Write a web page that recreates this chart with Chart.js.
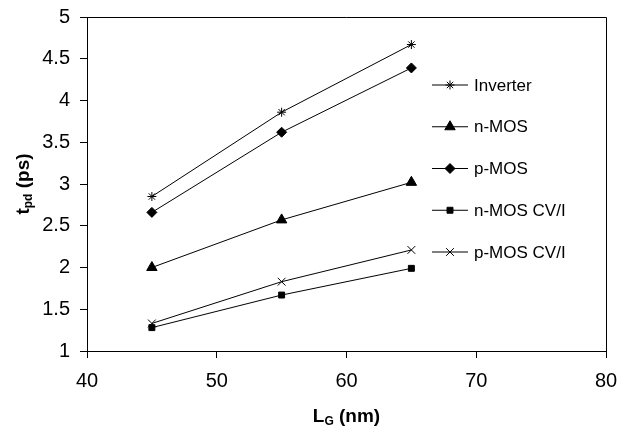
<!DOCTYPE html>
<html>
<head>
<script src="https://cdn.jsdelivr.net/npm/chart.js"></script>
<style>
  body { margin: 0; background: #fff; }
</style>
</head>
<body>
<canvas id="myChart" width="624" height="430"></canvas>
<script>
  // gate length (nm)
  var lengths = [45, 55, 65];
  // propagation delay tpd (ps)
  var inverter = [2.85, 3.86, 4.67];
  var nMos     = [2.00, 2.57, 3.02];
  var pMos     = [2.66, 3.62, 4.39];
  var nMosCvi  = [1.28, 1.67, 1.99];
  var pMosCvi  = [1.33, 1.83, 2.21];

  var seriesNames = ['Inverter', 'n-MOS', 'p-MOS', 'n-MOS CV/I', 'p-MOS CV/I'];
  var seriesValues = [inverter, nMos, pMos, nMosCvi, pMosCvi];
  var markers = ['star', 'triangle', 'rectRot', 'rect', 'crossRot'];
  var markerSizes = [4.5, 6, 5, 4.2, 5.5];

  var FONT = "'Liberation Sans', Arial, sans-serif";

  function makeData(values) {
    var pts = [];
    for (var i = 0; i < lengths.length; i++) {
      pts.push({ x: lengths[i], y: values[i] });
    }
    return pts;
  }

  var datasets = [];
  for (var i = 0; i < seriesNames.length; i++) {
    datasets.push({
      label: seriesNames[i],
      data: makeData(seriesValues[i]),
      borderColor: '#000',
      backgroundColor: '#000',
      borderWidth: 1,
      pointStyle: markers[i],
      pointRadius: markerSizes[i],
      pointBorderWidth: 1,
      pointBorderColor: '#000',
      pointBackgroundColor: '#000',
      fill: false,
      tension: 0
    });
  }

  // box around the plot + axis titles with subscripts + legend inside the plot
  var decorations = {
    id: 'decorations',
    afterDraw: function(chart) {
      var ctx = chart.ctx;
      var a = chart.chartArea;
      ctx.save();
      ctx.strokeStyle = '#000';
      ctx.lineWidth = 1;
      ctx.beginPath();
      ctx.moveTo(a.left, a.top + 0.5);
      ctx.lineTo(a.right + 0.5, a.top + 0.5);
      ctx.lineTo(a.right + 0.5, a.bottom);
      ctx.stroke();

      // x title: L_G (nm)
      drawSubTitle(ctx, 'L', 'G', ' (nm)', (a.left + a.right) / 2, 415, 0);
      // y title: t_pd (ps)
      drawSubTitle(ctx, 't', 'pd', ' (ps)', 22, (a.top + a.bottom) / 2, -Math.PI / 2);

      // legend
      ctx.font = '17px ' + FONT;
      ctx.textBaseline = 'middle';
      ctx.textAlign = 'left';
      for (var i = 0; i < seriesNames.length; i++) {
        var y = a.top + 68 + i * 41.75;
        var x0 = a.left + 345;
        ctx.beginPath();
        ctx.strokeStyle = '#000';
        ctx.lineWidth = 1;
        ctx.moveTo(x0, y);
        ctx.lineTo(x0 + 36, y);
        ctx.stroke();
        ctx.fillStyle = '#000';
        Chart.helpers.drawPoint(ctx, {
          pointStyle: markers[i],
          radius: markerSizes[i],
          rotation: 0,
          borderWidth: 1
        }, x0 + 18, y);
        ctx.fillStyle = '#000';
        ctx.fillText(seriesNames[i], x0 + 42, y + 1);
      }
      ctx.restore();
    }
  };

  function drawSubTitle(ctx, main, sub, rest, cx, cy, rot) {
    var big = 'bold 19px ' + FONT;
    var small = 'bold 12px ' + FONT;
    ctx.save();
    ctx.translate(cx, cy);
    ctx.rotate(rot);
    ctx.fillStyle = '#000';
    ctx.textBaseline = 'alphabetic';
    ctx.textAlign = 'left';
    ctx.font = big;
    var w1 = ctx.measureText(main).width;
    var w3 = ctx.measureText(rest).width;
    ctx.font = small;
    var w2 = ctx.measureText(sub).width;
    var x = -(w1 + w2 + w3) / 2;
    var base = 7;
    ctx.font = big;
    ctx.fillText(main, x, base);
    ctx.font = small;
    ctx.fillText(sub, x + w1, base + 3);
    ctx.font = big;
    ctx.fillText(rest, x + w1 + w2, base);
    ctx.restore();
  }

  Chart.defaults.font.family = FONT;
  Chart.defaults.color = '#000';

  var ctx = document.getElementById('myChart').getContext('2d');
  var myChart = new Chart(ctx, {
    type: 'line',
    data: { datasets: datasets },
    options: {
      responsive: false,
      animation: false,
      layout: { padding: { left: 0, top: 17, right: 18, bottom: 0 } },
      plugins: {
        legend: { display: false },
        tooltip: { enabled: false }
      },
      scales: {
        x: {
          type: 'linear',
          min: 40,
          max: 80,
          ticks: { stepSize: 10, font: { size: 20 }, padding: 11, color: '#000' },
          grid: { display: true, drawOnChartArea: false, drawTicks: true, tickLength: 7, color: '#000' },
          border: { display: true, color: '#000', width: 1 },
          afterFit: function(scale) {
            scale.height = 79;
            scale.paddingLeft = 0;
            scale.paddingRight = 0;
          }
        },
        y: {
          min: 1,
          max: 5,
          ticks: {
            stepSize: 0.5, font: { size: 20 }, padding: 10, color: '#000',
            callback: function(v) { return String(v); }
          },
          grid: { display: true, drawOnChartArea: false, drawTicks: true, tickLength: 7, color: '#000' },
          border: { display: true, color: '#000', width: 1 },
          afterFit: function(scale) {
            scale.width = 87;
            scale.paddingTop = 0;
            scale.paddingBottom = 0;
          }
        }
      }
    },
    plugins: [decorations]
  });
</script>
</body>
</html>
